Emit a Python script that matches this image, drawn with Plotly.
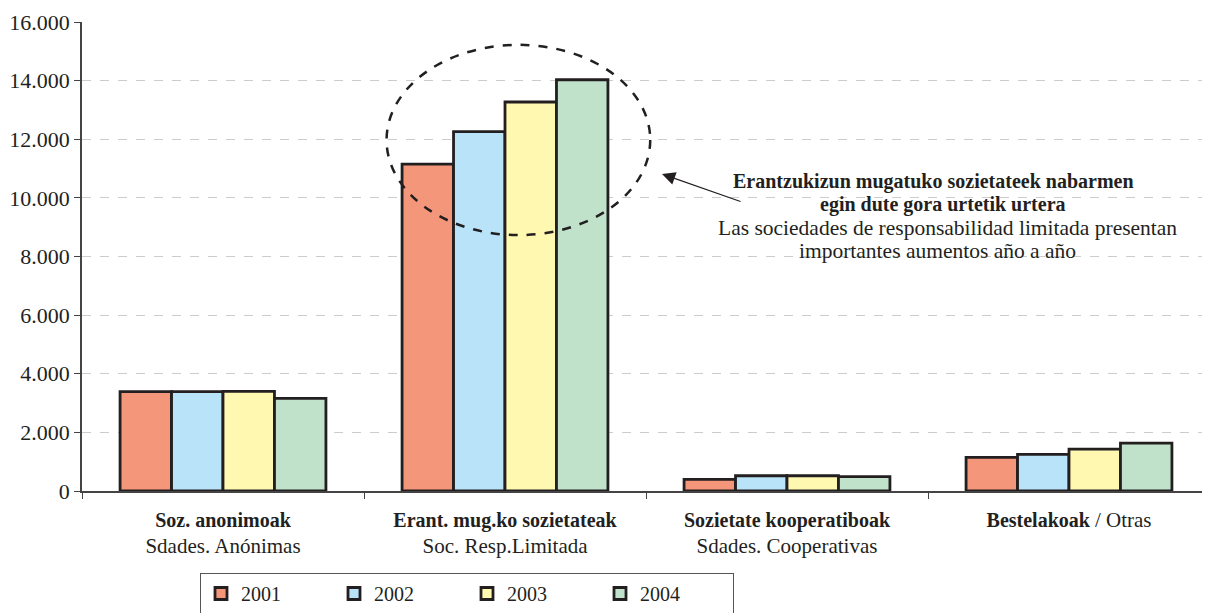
import plotly.graph_objects as go

REG = "<span style='font-size:21px'>{}</span>"
categories = [
    "<b>Soz. anonimoak</b><br>" + REG.format("Sdades. Anónimas"),
    "<b>Erant. mug.ko sozietateak</b><br>" + REG.format("Soc. Resp.Limitada"),
    "<b>Sozietate kooperatiboak</b><br>" + REG.format("Sdades. Cooperativas"),
    "<b>Bestelakoak</b> " + REG.format("/ Otras"),
]
years = ["2001", "2002", "2003", "2004"]
v2001 = [3390, 11150, 400, 1150]
v2002 = [3390, 12260, 520, 1250]
v2003 = [3400, 13270, 520, 1430]
v2004 = [3160, 14030, 490, 1630]
series = [v2001, v2002, v2003, v2004]
colors = ["#F4967A", "#B8E3F8", "#FFF8B0", "#C0E2CA"]
yticks = [0, 2000, 4000, 6000, 8000, 10000, 12000, 14000, 16000]
yticklabels = ["0", "2.000", "4.000", "6.000", "8.000", "10.000", "12.000", "14.000", "16.000"]
note_lines = [
    "<b>Erantzukizun mugatuko sozietateek nabarmen</b>",
    "<b>egin dute gora urtetik urtera</b>",
    "Las sociedades de responsabilidad limitada presentan",
    "importantes aumentos año a año",
]

FONT = "Liberation Serif, Times New Roman, serif"
TXT = "#231F20"

# page body has an 8px offset; compensate
OFF = 8
W, H = 1210 - OFF, 613 - OFF
L, T = 82 - OFF, 22 - OFF
PW, PH = W - L, 469
B = H - T - PH


def px_x(px):
    return (px - OFF - L) / PW


def px_y(py):
    return (T + PH - (py - OFF)) / PH


fig = go.Figure()
for name, vals, col in zip(years, series, colors):
    fig.add_trace(go.Bar(
        x=categories, y=vals, name=name,
        marker=dict(color=col, line=dict(color=TXT, width=2.8)),
    ))

fig.update_layout(
    width=W, height=H,
    margin=dict(l=L, r=0, t=T, b=B, autoexpand=False),
    paper_bgcolor="white", plot_bgcolor="white",
    barmode="group", bargap=0.27, bargroupgap=0,
    font=dict(family=FONT, size=20, color=TXT),
    showlegend=True,
    legend=dict(
        orientation="h", x=px_x(200), y=px_y(573), xanchor="left", yanchor="top",
        bordercolor="#555555", borderwidth=1, bgcolor="white",
        font=dict(family=FONT, size=20, color=TXT),
        entrywidth=88, entrywidthmode="pixels",
        itemwidth=30, traceorder="normal",
    ),
    xaxis=dict(
        type="category", showgrid=False, showline=True, linecolor="#444444", linewidth=1.5,
        ticks="outside", tickson="boundaries", ticklen=6, tickcolor="#444444",
        ticklabelstandoff=10,
        tickfont=dict(family=FONT, size=20, color=TXT),
    ),
    yaxis=dict(
        range=[0, 16000], tickvals=yticks, ticktext=yticklabels,
        showline=True, linecolor="#444444", linewidth=1.5,
        ticks="outside", ticklen=6, tickcolor="#444444",
        showgrid=True, gridcolor="#CCCCCC", griddash="dash", gridwidth=1,
        tickfont=dict(family=FONT, size=22, color=TXT),
        zeroline=False,
    ),
)

# dashed ellipse highlighting SRL bars
fig.add_shape(type="circle", xref="x", yref="y",
              x0=0.58, x1=1.515, y0=8730, y1=15220,
              line=dict(color=TXT, width=2.5, dash="dash"))

# annotation text lines
for line, cx, cy, sz in zip(note_lines, [933, 943, 947, 937], [181, 205, 228, 251], [20, 20, 21.5, 21.5]):
    fig.add_annotation(
        xref="paper", yref="paper", x=px_x(cx), y=px_y(cy),
        xanchor="center", yanchor="middle", showarrow=False,
        text=line, font=dict(family=FONT, size=sz, color=TXT),
    )
# arrow
fig.add_annotation(
    xref="paper", yref="paper", axref="pixel", ayref="pixel",
    x=px_x(662), y=px_y(174),
    ax=80, ay=28,
    showarrow=True, arrowhead=2, arrowsize=2.2, arrowwidth=1.2, arrowcolor=TXT, text="",
)

fig.write_html("out.html")
